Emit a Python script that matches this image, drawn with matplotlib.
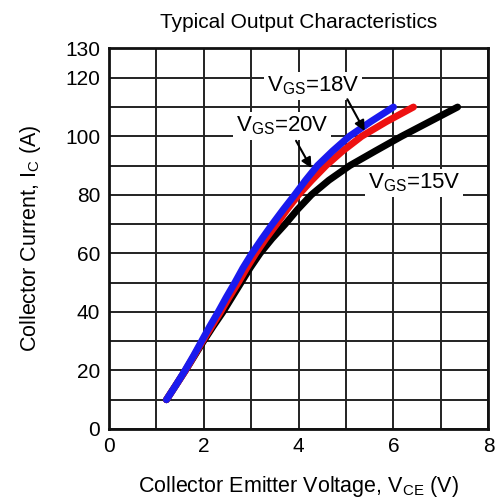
import matplotlib
matplotlib.use("Agg")
import matplotlib.pyplot as plt
import numpy as np

plt.rcParams['font.family'] = ['Liberation Sans', 'DejaVu Sans']
plt.rcParams['mathtext.fontset'] = 'custom'
plt.rcParams['mathtext.rm'] = 'Liberation Sans'
plt.rcParams['mathtext.it'] = 'Liberation Sans'

# Data: collector current levels and the V_CE at which each curve reaches them
ic_levels = [10, 15, 20, 25, 30, 35, 40, 45, 50, 55, 60, 65, 70, 75, 80, 85, 90, 95, 100, 105, 110]
vce_20v = [1.22, 1.42, 1.61, 1.79, 1.96, 2.13, 2.31, 2.48, 2.66, 2.83, 3.02, 3.23, 3.45, 3.68, 3.92,
           4.15, 4.40, 4.72, 5.07, 5.52, 6.00]
vce_18v = [1.22, 1.42, 1.62, 1.80, 1.98, 2.17, 2.36, 2.54, 2.73, 2.91, 3.10, 3.31, 3.54, 3.76, 4.00,
           4.28, 4.58, 4.93, 5.33, 5.85, 6.42]
vce_15v = [1.22, 1.42, 1.62, 1.81, 2.00, 2.20, 2.41, 2.60, 2.79, 2.98, 3.19, 3.44, 3.72, 3.98, 4.27,
           4.64, 5.08, 5.62, 6.17, 6.76, 7.35]

x_ticks = [0, 2, 4, 6, 8]
y_ticks = [0, 20, 40, 60, 80, 100, 120, 130]

fig = plt.figure(figsize=(4.95, 4.99), dpi=100)
ax = fig.add_axes([108.5/495, 1-429/499, (488.5-108.5)/495, (429-48.5)/499])

ax.set_xlim(0, 8)
ax.set_ylim(0, 130)
ax.set_xticks(x_ticks)
ax.set_yticks(y_ticks)
ax.set_xticks(np.arange(0, 9, 1), minor=True)
ax.set_yticks(np.arange(0, 131, 10), minor=True)
ax.grid(which='both', color='#222222', linewidth=1.4)
ax.set_axisbelow(True)
ax.tick_params(which='both', length=0, labelsize=15, pad=6)
for s in ax.spines.values():
    s.set_linewidth(2)
    s.set_color('#111111')

style = dict(lw=5, solid_capstyle='round', solid_joinstyle='round')
ax.plot(vce_15v, ic_levels, color='black', zorder=3, **style)
ax.plot(vce_18v, ic_levels, color='#ee1111', zorder=4, **style)
ax.plot(vce_20v, ic_levels, color='#1a1aee', zorder=5, **style)

bbox = dict(facecolor='white', edgecolor='none', pad=2)
ax.text(4.31, 117.2, r'V$_{\mathrm{GS}}$=18V', fontsize=16, ha='center', va='center', bbox=bbox, zorder=6)
ax.text(3.66, 103.5, r'V$_{\mathrm{GS}}$=20V', fontsize=16, ha='center', va='center', bbox=bbox, zorder=6)
ax.text(6.44, 84, r'V$_{\mathrm{GS}}$=15V', fontsize=16, ha='center', va='center', bbox=bbox, zorder=6)

arrow = dict(arrowstyle='-|>', color='black', lw=1.5, mutation_scale=15)
ax.annotate('', xy=(5.42, 101), xytext=(5.0, 113.5), arrowprops=arrow, zorder=7)
ax.annotate('', xy=(4.30, 88.3), xytext=(3.92, 99.3), arrowprops=arrow, zorder=7)

ax.set_title('Typical Output Characteristics', fontsize=15, pad=15)
ax.set_xlabel(r'Collector Emitter Voltage, V$_{\mathrm{CE}}$ (V)', fontsize=15.5, labelpad=13)
ax.set_ylabel(r'Collector Current, I$_{\mathrm{C}}$ (A)', fontsize=15.5, labelpad=16)

fig.savefig('out.png', dpi=100)
